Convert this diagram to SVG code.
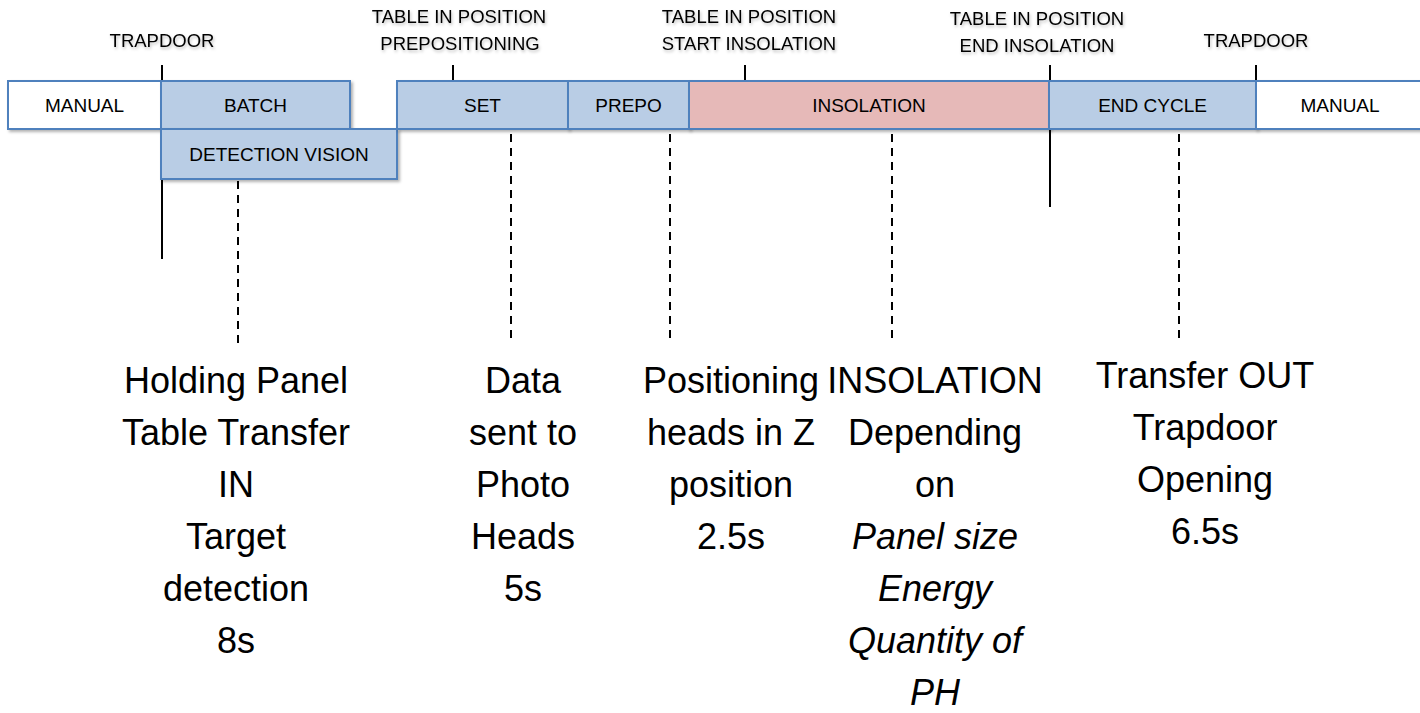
<svg xmlns="http://www.w3.org/2000/svg" width="1420" height="713" viewBox="0 0 1420 713">
<defs>
<filter id="sh" x="-10%" y="-30%" width="120%" height="160%">
<feDropShadow dx="2" dy="2" stdDeviation="1.5" flood-color="#000" flood-opacity="0.3"/>
</filter>
<filter id="tsh" x="-10%" y="-30%" width="120%" height="160%">
<feDropShadow dx="1" dy="2" stdDeviation="1.5" flood-color="#000" flood-opacity="0.25"/>
</filter>
</defs>
<style>
.box{stroke:#4f81bd;stroke-width:2;filter:url(#sh)}
.blue{fill:#b9cde5}
.pink{fill:#e6b9b8}
.white{fill:#ffffff}
.lbl{font-family:"Liberation Sans",Arial,sans-serif;font-size:19px;fill:#000;text-anchor:middle}
.top{font-family:"Liberation Sans",Arial,sans-serif;font-size:18.5px;fill:#000;text-anchor:middle;filter:url(#tsh)}
.big{font-family:"Liberation Sans",Arial,sans-serif;font-size:36px;fill:#000;text-anchor:middle}
.it{font-style:italic}
.solid{stroke:#000;stroke-width:2;fill:none}
.dash{stroke:#000;stroke-width:2;fill:none;stroke-dasharray:8 6}
</style>
<rect width="1420" height="713" fill="#ffffff"/>

<g id="connectors">
<line class="solid" x1="162" y1="65" x2="162" y2="259"/>
<line class="solid" x1="1050" y1="65" x2="1050" y2="207"/>
<line class="solid" x1="453" y1="65" x2="453" y2="81"/>
<line class="solid" x1="745" y1="65" x2="745" y2="81"/>
<line class="solid" x1="1256" y1="65" x2="1256" y2="81"/>
<line class="dash" x1="238" y1="181" x2="238" y2="343"/>
<line class="dash" x1="511" y1="134" x2="511" y2="343"/>
<line class="dash" x1="670" y1="134" x2="670" y2="343"/>
<line class="dash" x1="892" y1="134" x2="892" y2="343"/>
<line class="dash" x1="1179" y1="134" x2="1179" y2="343"/>
</g>

<g id="manual-left"><rect class="box white" x="8" y="81" width="153" height="48"/><text class="lbl" x="84.5" y="112">MANUAL</text></g>
<g id="batch"><rect class="box blue" x="161" y="81" width="189" height="48"/><text class="lbl" x="255.5" y="112">BATCH</text></g>
<g id="detection-vision"><rect class="box blue" x="161" y="129" width="236" height="50"/><text class="lbl" x="279" y="161">DETECTION VISION</text></g>
<g id="set"><rect class="box blue" x="397" y="81" width="171" height="48"/><text class="lbl" x="482.5" y="112">SET</text></g>
<g id="prepo"><rect class="box blue" x="568" y="81" width="121" height="48"/><text class="lbl" x="628.5" y="112">PREPO</text></g>
<g id="insolation"><rect class="box pink" x="689" y="81" width="360" height="48"/><text class="lbl" x="869" y="112">INSOLATION</text></g>
<g id="end-cycle"><rect class="box blue" x="1049" y="81" width="207" height="48"/><text class="lbl" x="1152.5" y="112">END CYCLE</text></g>
<g id="manual-right"><rect class="box white" x="1256" y="81" width="168" height="48"/><text class="lbl" x="1340" y="112">MANUAL</text></g>

<g id="label-trapdoor-left"><text class="top" x="162" y="47">TRAPDOOR</text></g>
<g id="label-prepositioning"><text class="top" x="459" y="23">TABLE IN POSITION</text><text class="top" x="460" y="50">PREPOSITIONING</text></g>
<g id="label-start-insolation"><text class="top" x="749" y="23">TABLE IN POSITION</text><text class="top" x="749" y="50">START INSOLATION</text></g>
<g id="label-end-insolation"><text class="top" x="1037" y="25">TABLE IN POSITION</text><text class="top" x="1037" y="52">END INSOLATION</text></g>
<g id="label-trapdoor-right"><text class="top" x="1256" y="47">TRAPDOOR</text></g>

<g id="note-batch">
<text class="big" x="236" y="393">Holding Panel</text>
<text class="big" x="236" y="445">Table Transfer</text>
<text class="big" x="236" y="497">IN</text>
<text class="big" x="236" y="549">Target</text>
<text class="big" x="236" y="601">detection</text>
<text class="big" x="236" y="653">8s</text>
</g>
<g id="note-set">
<text class="big" x="523" y="393">Data</text>
<text class="big" x="523" y="445">sent to</text>
<text class="big" x="523" y="497">Photo</text>
<text class="big" x="523" y="549">Heads</text>
<text class="big" x="523" y="601">5s</text>
</g>
<g id="note-prepo">
<text class="big" x="731" y="393">Positioning</text>
<text class="big" x="731" y="445">heads in Z</text>
<text class="big" x="731" y="497">position</text>
<text class="big" x="731" y="549">2.5s</text>
</g>
<g id="note-insolation">
<text class="big" x="935" y="393">INSOLATION</text>
<text class="big" x="935" y="445">Depending</text>
<text class="big" x="935" y="497">on</text>
<text class="big it" x="935" y="549">Panel size</text>
<text class="big it" x="935" y="601">Energy</text>
<text class="big it" x="935" y="653">Quantity of</text>
<text class="big it" x="935" y="705">PH</text>
</g>
<g id="note-end-cycle">
<text class="big" x="1205" y="388">Transfer OUT</text>
<text class="big" x="1205" y="440">Trapdoor</text>
<text class="big" x="1205" y="492">Opening</text>
<text class="big" x="1205" y="544">6.5s</text>
</g>
</svg>
